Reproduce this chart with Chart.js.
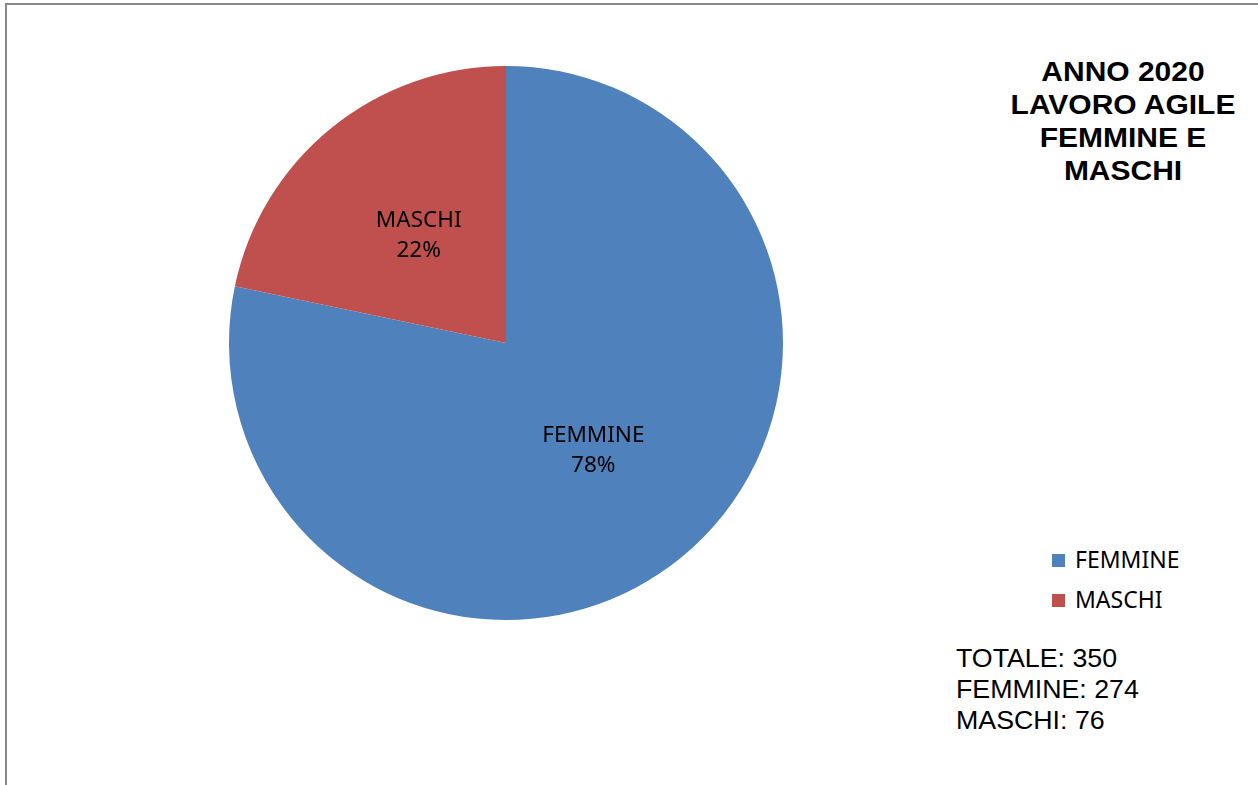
<!DOCTYPE html>
<html>
<head>
<meta charset="utf-8">
<script src="https://cdn.jsdelivr.net/npm/chart.js@4"></script>
<style>
  html, body { margin: 0; padding: 0; background: #fff; width: 1258px; height: 785px; overflow: hidden; }
  #frame { position: absolute; left: 5px; top: 3px; width: 1260px; height: 790px; border-left: 2px solid #888; border-top: 2px solid #888; }
  #wrap { position: absolute; left: 229px; top: 66px; width: 554px; height: 554px; }
  #title { position: absolute; left: 993px; width: 260px; top: 56px; text-align: center; font-family: "Liberation Sans", Arial, sans-serif; font-weight: bold; font-size: 27px; line-height: 33px; color: #000; transform: scaleX(1.11); transform-origin: 130px 0; }
  #legend { position: absolute; left: 1052px; top: 545px; font-family: "Noto Sans", "Open Sans", sans-serif; font-size: 23px; color: #000; }
  .li { height: 40px; position: relative; }
  .sw { position: absolute; left: 0; top: 9px; width: 13px; height: 13px; }
  .lt { position: absolute; left: 23px; top: -1px; line-height: 31px; white-space: nowrap; }
  #totals { position: absolute; left: 956px; top: 643px; font-family: "Liberation Sans", Arial, sans-serif; font-size: 25px; line-height: 31px; color: #000; white-space: nowrap; transform: scaleX(1.07); transform-origin: 0 0; }
</style>
</head>
<body>
<div id="frame"></div>
<div id="wrap"><canvas id="c" width="554" height="554"></canvas></div>
<div id="title"></div>
<div id="legend"></div>
<div id="totals"></div>
<script>
const categories = ["FEMMINE", "MASCHI"];
const values = [274, 76];
const colors = ["#4F81BD", "#C0504D"];
const titleLines = ["ANNO 2020", "LAVORO AGILE", "FEMMINE E", "MASCHI"];
const totalLabel = "TOTALE";

const total = values.reduce((a, b) => a + b, 0);

document.getElementById('title').innerHTML = titleLines.join('<br>');
document.getElementById('legend').innerHTML = categories.map((c, i) =>
  '<div class="li"><div class="sw" style="background:' + colors[i] + '"></div><div class="lt">' + c + '</div></div>').join('');
document.getElementById('totals').innerHTML = [totalLabel + ': ' + total].concat(categories.map((c, i) => c + ': ' + values[i])).join('<br>');

const sliceLabels = {
  id: 'sliceLabels',
  afterDatasetsDraw(chart) {
    const ctx = chart.ctx;
    const meta = chart.getDatasetMeta(0);
    ctx.save();
    ctx.fillStyle = '#000';
    ctx.font = '22.5px "Noto Sans", "Open Sans", sans-serif';
    ctx.textAlign = 'center';
    ctx.textBaseline = 'middle';
    meta.data.forEach((arc, i) => {
      const p = arc.tooltipPosition();
      const pct = Math.round(values[i] / total * 100) + '%';
      ctx.fillText(categories[i], p.x, p.y - 15);
      ctx.fillText(pct, p.x, p.y + 15);
    });
    ctx.restore();
  }
};

new Chart(document.getElementById('c'), {
  type: 'pie',
  data: {
    labels: categories,
    datasets: [{ data: values, backgroundColor: colors, borderWidth: 0 }]
  },
  options: {
    responsive: false,
    animation: false,
    layout: { padding: 0 },
    plugins: { legend: { display: false }, tooltip: { enabled: false } }
  },
  plugins: [sliceLabels]
});
</script>
</body>
</html>
